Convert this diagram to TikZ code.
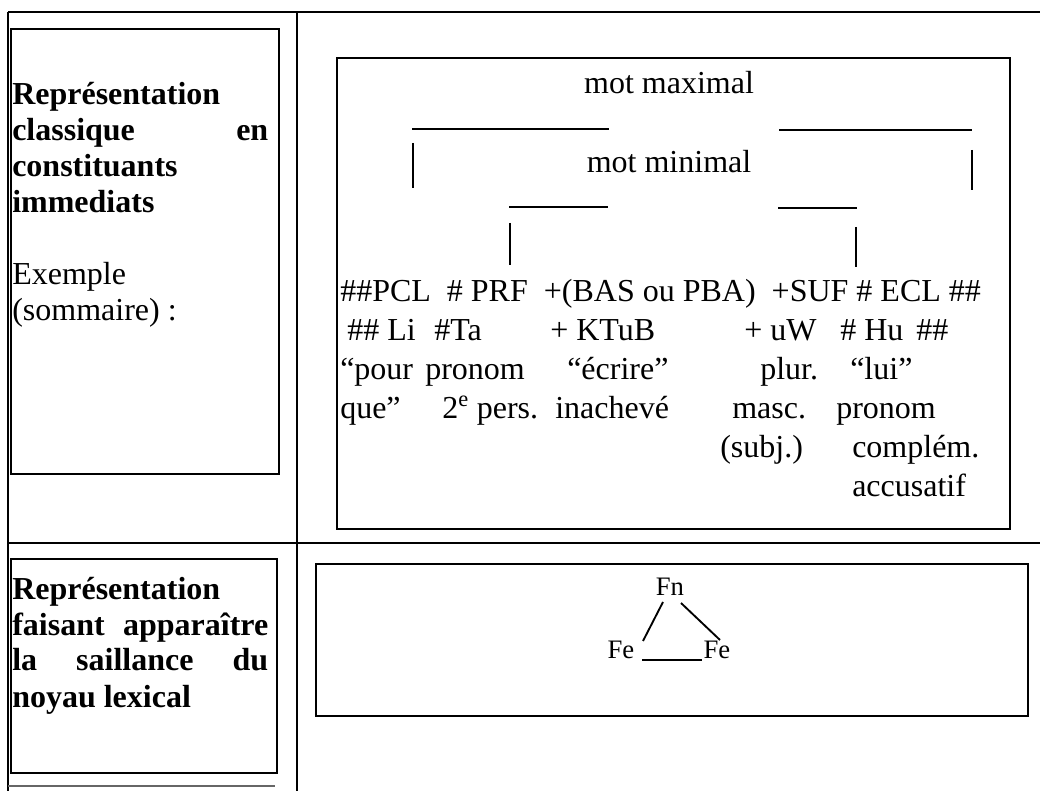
\documentclass[tikz,border=0pt]{standalone}
\usepackage{fontspec}
\setmainfont{Liberation Serif}
\begin{document}
\begin{tikzpicture}[x=0.75pt,y=-0.75pt,
  rule/.style={line width=1.5pt},
  frame/.style={draw,line width=1.7pt},
  stroke/.style={line width=1.4pt},
  txt/.style={inner sep=0pt,font=\fontsize{24}{28}\selectfont},
  head/.style={inner sep=0pt,font=\fontsize{24}{28}\selectfont\bfseries},
  small/.style={inner sep=0pt,font=\fontsize{20}{24}\selectfont}]
\useasboundingbox (0,0) rectangle (1040,791);

% table rules
\draw[rule] (8,12) -- (1040,12);
\draw[rule] (8,12) -- (8,791);
\draw[rule] (297,12) -- (297,791);
\draw[rule] (8,543) -- (1040,543);
\draw[rule,black!60] (8,786) -- (275,786);

% cell frames
\draw[frame] (11,29) rectangle (279,474);
\draw[frame] (337,58) rectangle (1010,529);
\draw[frame] (11,559) rectangle (277,773);
\draw[frame] (316,564) rectangle (1028,716);

% left column, first row
\node[head,anchor=base west] (h1a) at (12,105) {Représentation};
\node[head,anchor=base west] (h1b) at (12,141) {\hbox to 192pt{classique\hfill en}};
\node[head,anchor=base west] (h1c) at (12,177) {constituants};
\node[head,anchor=base west] (h1d) at (12,213) {immediats};
\node[txt,anchor=base west] (ex1) at (12,285) {Exemple};
\node[txt,anchor=base west] (ex2) at (12,321) {(sommaire) :};

% left column, second row
\node[head,anchor=base west] (h2a) at (12,600) {Représentation};
\node[head,anchor=base west] (h2b) at (12,636) {\hbox to 192pt{faisant\hfill apparaître}};
\node[head,anchor=base west] (h2c) at (12,671) {\hbox to 192pt{la\hfill saillance\hfill du}};
\node[head,anchor=base west] (h2d) at (12,707) {noyau lexical};

% constituent structure
\node[txt,anchor=base] (max) at (669,94) {mot maximal};
\node[txt,anchor=base] (min) at (669,173) {mot minimal};

\draw[stroke] (412,129) -- (609,129);
\draw[stroke] (779,130) -- (972,130);
\draw[stroke] (413,143) -- (413,188);
\draw[stroke] (972,150) -- (972,190);
\draw[stroke] (509,207) -- (608,207);
\draw[stroke] (778,208) -- (857,208);
\draw[stroke] (510,223) -- (510,265);
\draw[stroke] (856,227) -- (856,267);

\node[txt,anchor=base west] (r1) at (340,302)
  {\#\#PCL\ \ \# PRF\ \ +(BAS ou PBA)\ \ +SUF \# ECL \#\#};

\node[txt,anchor=base west] (r2a) at (347,341) {\#\# Li};
\node[txt,anchor=base west] (r2b) at (434,341) {\#Ta};
\node[txt,anchor=base west] (r2c) at (550,341) {+ KTuB};
\node[txt,anchor=base west] (r2d) at (744,341) {+ uW};
\node[txt,anchor=base west] (r2e) at (840,341) {\# Hu};
\node[txt,anchor=base west] (r2f) at (916,341) {\#\#};

\node[txt,anchor=base west] (r3a) at (340,380) {“pour};
\node[txt,anchor=base west] (r3b) at (425,380) {pronom};
\node[txt,anchor=base west] (r3c) at (567,380) {“écrire”};
\node[txt,anchor=base west] (r3d) at (760,380) {plur.};
\node[txt,anchor=base west] (r3e) at (850,380) {“lui”};

\node[txt,anchor=base west] (r4a) at (340,419) {que”};
\node[txt,anchor=base west] (r4b) at (442,419) {2\textsuperscript{e} pers.};
\node[txt,anchor=base west] (r4c) at (555,419) {inachevé};
\node[txt,anchor=base west] (r4d) at (732,419) {masc.};
\node[txt,anchor=base west] (r4e) at (836,419) {pronom};

\node[txt,anchor=base west] (r5a) at (720,458) {(subj.)};
\node[txt,anchor=base west] (r5b) at (852,458) {complém.};

\node[txt,anchor=base west] (r6a) at (852,497) {accusatif};

% lexical core triangle
\node[small,anchor=base] (fn) at (670,596) {Fn};
\node[small,anchor=base] (fel) at (621,659) {Fe};
\node[small,anchor=base] (fer) at (717,659) {Fe};
\coordinate (fnl) at (663,602);
\coordinate (fnr) at (681,603);
\coordinate (fell) at (643,641);
\coordinate (ferr) at (720,640);
\coordinate (bl) at (642,660);
\coordinate (br) at (702,660);
\draw[stroke] (fnl) -- (fell);
\draw[stroke] (fnr) -- (ferr);
\draw[stroke] (bl) -- (br);
\end{tikzpicture}
\end{document}
